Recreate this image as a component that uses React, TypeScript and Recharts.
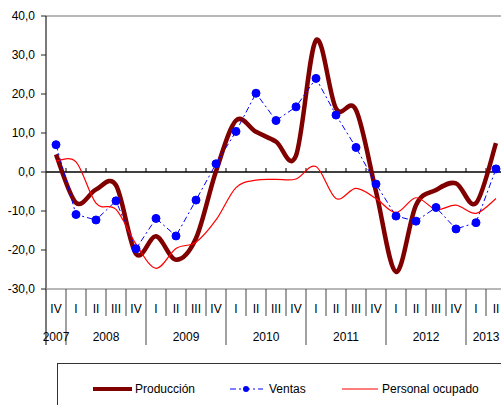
import React from 'react';
import { ComposedChart, Line, XAxis, YAxis, ReferenceLine } from 'recharts';

const quarters = ['IV', 'I', 'II', 'III', 'IV', 'I', 'II', 'III', 'IV', 'I', 'II', 'III', 'IV', 'I', 'II', 'III', 'IV', 'I', 'II', 'III', 'IV', 'I', 'II'];
const years = ['2007', '2008', '2009', '2010', '2011', '2012', '2013'];
const yearSizes = [1, 4, 4, 4, 4, 4, 2];

const produccion = [4.5, -7.9, -4.5, -3.4, -21.0, -16.5, -22.5, -17.0, 0.2, 13.2, 10.3, 7.8, 4.2, 33.8, 16.3, 15.9, -5.0, -25.6, -8.5, -4.6, -2.9, -8.0, 7.4];
const ventas = [7.0, -10.9, -12.3, -7.4, -19.7, -11.9, -16.4, -7.2, 2.1, 10.4, 20.2, 13.2, 16.7, 24.0, 14.6, 6.3, -3.1, -11.3, -12.6, -9.1, -14.6, -13.0, 0.8];
const personal = [2.8, 2.6, -8.0, -9.6, -18.5, -24.7, -19.6, -18.0, -12.3, -4.0, -2.1, -1.9, -1.8, 1.4, -6.8, -4.2, -6.8, -10.4, -6.6, -9.6, -8.5, -10.6, -6.8];

const yTicks = [-30, -20, -10, 0, 10, 20, 30, 40];

const data = quarters.map((q, i) => ({
  key: i,
  q,
  produccion: produccion[i],
  ventas: ventas[i],
  personal: personal[i],
}));

// first index of each year group -> year label + group size
const yearStart: Record<number, { label: string; size: number }> = {};
let acc = 0;
years.forEach((y, i) => {
  yearStart[acc] = { label: y, size: yearSizes[i] };
  acc += yearSizes[i];
});

const FONT = '"Liberation Sans", Arial, sans-serif';
const PLOT_W = 460;
const BAND = PLOT_W / quarters.length;

// Excel-like smoothing (Catmull-Rom bezier)
const excelSmooth = (context: any) => {
  let pts: number[][] = [];
  return {
    areaStart() {},
    areaEnd() {},
    lineStart() {
      pts = [];
    },
    point(x: number, y: number) {
      pts.push([+x, +y]);
    },
    lineEnd() {
      const n = pts.length;
      if (!n) return;
      context.moveTo(pts[0][0], pts[0][1]);
      for (let i = 0; i < n - 1; i++) {
        const p0 = pts[i - 1] || pts[i];
        const p1 = pts[i];
        const p2 = pts[i + 1];
        const p3 = pts[i + 2] || p2;
        context.bezierCurveTo(
          p1[0] + (p2[0] - p0[0]) / 6,
          p1[1] + (p2[1] - p0[1]) / 6,
          p2[0] - (p3[0] - p1[0]) / 6,
          p2[1] - (p3[1] - p1[1]) / 6,
          p2[0],
          p2[1]
        );
      }
    },
  };
};

const QuarterTick = (props: any) => {
  const { x, y, payload, index } = props;
  const half = BAND / 2;
  const yr = yearStart[index];
  const isYearEnd = yearStart[index + 1] !== undefined;
  return (
    <g>
      {index === 0 && <line x1={x - half} y1={y} x2={x - half} y2={y + 56} stroke="#222" strokeWidth={1.2} />}
      <line x1={x + half} y1={y} x2={x + half} y2={y + (isYearEnd ? 56 : 27)} stroke="#444" strokeWidth={1} />
      <text x={x} y={y + 24} textAnchor="middle" fontSize={12} fill="#000" fontFamily={FONT}>
        {payload.value}
      </text>
      {yr && (
        <text x={x + ((yr.size - 1) / 2) * BAND} y={y + 52} textAnchor="middle" fontSize={12} fill="#000" fontFamily={FONT}>
          {yr.label}
        </text>
      )}
    </g>
  );
};

const ZeroLine = (props: any) => {
  const { x1, y1, x2 } = props;
  const band = (x2 - x1) / quarters.length;
  return (
    <g>
      <line x1={x1} y1={y1} x2={x2} y2={y1} stroke="#000" strokeWidth={1.3} />
      {quarters.map((_, i) => (
        <line key={i} x1={x1 + band * (i + 1)} y1={y1} x2={x1 + band * (i + 1)} y2={y1 - 4} stroke="#000" strokeWidth={1} />
      ))}
    </g>
  );
};

const legendText: React.CSSProperties = { position: 'absolute', top: 18, fontSize: 12, fontFamily: FONT, color: '#000', lineHeight: '14px' };

const ChartLegend = () => (
  <div style={{ position: 'absolute', left: 57, top: 363, width: 470, height: 60, border: '1px solid #333', boxSizing: 'border-box' }}>
    <svg width={470} height={60} style={{ position: 'absolute', left: -1, top: -1 }}>
      <line x1={36} y1={26} x2={75} y2={26} stroke="#800000" strokeWidth={4} />
      <line x1={173} y1={26} x2={206} y2={26} stroke="#0000FF" strokeWidth={1} strokeDasharray="6 3 2 3" />
      <circle cx={189} cy={26} r={3} fill="#0000FF" />
      <line x1={285} y1={26} x2={321} y2={26} stroke="#FF0000" strokeWidth={1.2} />
    </svg>
    <span style={{ ...legendText, left: 77 }}>Producción</span>
    <span style={{ ...legendText, left: 211 }}>Ventas</span>
    <span style={{ ...legendText, left: 324 }}>Personal ocupado</span>
  </div>
);

export default function App() {
  return (
    <div style={{ position: 'absolute', left: 0, top: 0, width: 501, height: 405, overflow: 'hidden', background: '#fff' }}>
      <ComposedChart width={46 + PLOT_W + 14} height={360} data={data} margin={{ top: 16, right: 14, left: 0, bottom: 0 }}>
        <YAxis
          width={46}
          domain={[-30, 40]}
          ticks={yTicks}
          interval={0}
          tickFormatter={(v: number) => v.toFixed(1).replace('.', ',')}
          tick={{ fontSize: 12, fill: '#000', fontFamily: FONT }}
          axisLine={{ stroke: '#222', strokeWidth: 1.2 }}
          tickLine={{ stroke: '#222' }}
          tickSize={5}
          tickMargin={6}
        />
        <XAxis
          dataKey="q"
          interval={0}
          padding={{ left: BAND / 2, right: BAND / 2 }}
          axisLine={{ stroke: '#a0a0a0', strokeWidth: 1.5 }}
          tickLine={false}
          tickSize={0}
          tickMargin={0}
          height={71}
          tick={<QuarterTick />}
        />
        <ReferenceLine y={40} stroke="#a0a0a0" strokeWidth={1.5} />
        <ReferenceLine y={0} shape={<ZeroLine />} />
        <Line
          dataKey="produccion"
          type={excelSmooth as any}
          stroke="#800000"
          strokeWidth={4.5}
          dot={false}
          isAnimationActive={false}
        />
        <Line
          dataKey="ventas"
          type="linear"
          stroke="#0000FF"
          strokeWidth={1}
          strokeDasharray="6 3 2 3"
          dot={{ r: 4, fill: '#0000FF', stroke: '#0000FF', strokeWidth: 1, strokeDasharray: '' }}
          isAnimationActive={false}
        />
        <Line
          dataKey="personal"
          type={excelSmooth as any}
          stroke="#FF0000"
          strokeWidth={1.2}
          dot={false}
          isAnimationActive={false}
        />
      </ComposedChart>
      <ChartLegend />
    </div>
  );
}
